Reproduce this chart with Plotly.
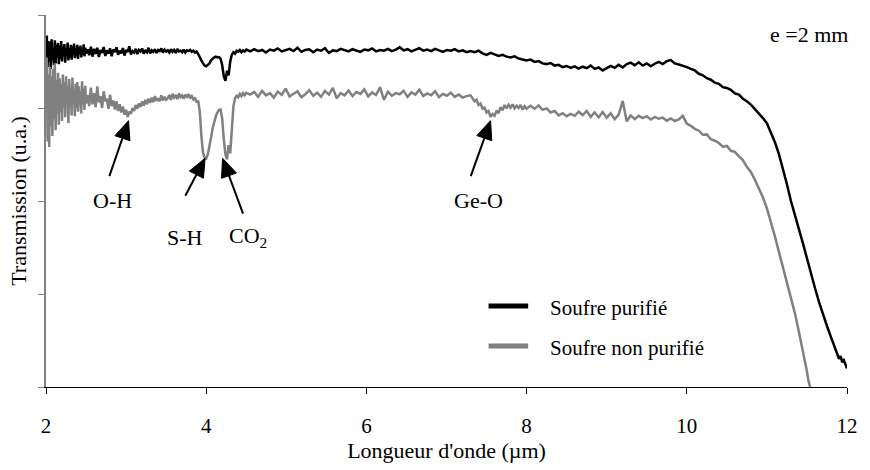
import numpy as np
import plotly.graph_objects as go

# ---------------- data ----------------
# Soufre purifié (black)
pur_2_25 = [91.5, 94.5, 86.0, 93.0, 87.5, 92.8, 85.5, 93.5, 88.0, 91.0,
            86.5, 93.2, 87.0, 92.0, 88.5, 92.5, 86.8, 91.8, 88.2, 93.0,
            87.5, 91.5, 88.8, 92.2, 87.2, 91.0, 89.0, 92.6, 87.8, 91.2,
            88.5, 92.0, 88.0, 91.6, 89.2, 92.3, 88.4, 91.0, 89.0, 92.0,
            88.2, 91.4, 89.5, 91.8, 88.6, 90.8, 89.3, 92.1, 88.9, 91.2, 89.6]
pur_25_35 = [90.8, 89.2, 91.5, 88.8, 90.9, 89.5, 91.2, 88.7, 90.6, 89.8,
             91.4, 89.0, 90.5, 89.6, 91.0, 88.9, 90.7, 90.0, 91.3, 89.3,
             90.4, 89.7, 91.1, 89.1, 90.6, 90.1, 91.6, 89.4, 90.3, 89.9,
             90.9, 89.5, 90.6, 90.2, 91.0, 89.6, 90.4, 90.0, 91.2, 89.7,
             90.5, 90.1, 90.8, 89.8, 90.6, 90.3, 91.0, 89.9, 90.7, 90.2]
pur_35_39 = [90.5, 89.9, 90.8, 90.1, 90.6, 89.8, 90.9, 90.2, 90.4, 90.0,
             90.7, 89.9, 90.5, 90.3, 90.6, 90.1, 90.4, 89.9, 90.2]
pur_39_45 = [89.5, 88.8, 87.8, 87.0, 86.4, 86.2, 86.5, 87.0, 87.8, 88.3,
             88.6, 88.8, 88.6, 88.7, 88.2, 86.5, 83.5, 82.3, 85.0, 83.8,
             87.5, 89.3, 90.0, 89.6, 90.4, 90.1, 90.6, 90.0, 90.5, 90.2, 90.7]
pur_45_73 = [90.2, 90.8, 90.3, 90.6, 89.9, 90.7, 90.4, 91.0, 90.2, 90.5,
             90.9, 90.3, 91.2, 90.1, 90.6, 90.8, 90.0, 90.7, 90.4, 91.1,
             89.8, 90.5, 90.3, 90.9, 90.6, 90.2, 90.8, 90.4, 90.1, 90.7,
             90.5, 91.0, 90.2, 90.6, 90.4, 90.9, 90.3, 90.7, 91.3, 90.5,
             90.8, 90.2, 90.6, 91.1, 90.4, 90.7, 90.3, 90.9, 90.5, 90.1,
             90.6, 90.4, 90.8, 90.2, 90.5, 90.0]
pur_73_10 = [90.3, 90.0, 90.4, 89.7, 89.3, 89.8, 89.4, 89.0, 89.3, 88.8,
             88.6, 88.9, 88.3, 88.1, 87.8, 88.0, 87.4, 87.6, 87.0, 86.8,
             87.1, 86.4, 86.6, 86.0, 86.3, 85.8, 86.2, 85.6, 86.1, 85.7,
             86.4, 85.5, 85.9, 85.1, 85.6, 86.3, 85.8, 86.6, 85.9, 86.8,
             87.2, 86.5, 87.3, 86.4, 87.0, 86.2, 86.9, 87.4, 86.8, 87.6,
             87.9, 87.0, 86.7, 86.4, 86.0]
pur_tail_x = [10.05, 10.10, 10.15, 10.20, 10.25, 10.30, 10.35, 10.40, 10.45, 10.50,
              10.55, 10.60, 10.65, 10.70, 10.75, 10.80, 10.85, 10.90, 10.95, 11.00,
              11.05, 11.10, 11.15, 11.20, 11.25, 11.30, 11.35, 11.40, 11.45, 11.50,
              11.55, 11.60, 11.65, 11.70, 11.75, 11.80, 11.85, 11.88, 11.90, 11.92,
              11.94, 11.96, 11.98, 12.00]
pur_tail_y = [85.5, 85.1, 84.2, 83.8, 83.0, 82.6, 81.8, 81.5, 80.6, 80.4,
              79.9, 78.9, 78.6, 77.5, 76.8, 75.9, 74.7, 73.6, 72.3, 70.9,
              68.5, 65.8, 62.6, 58.8, 54.5, 50.0, 46.3, 42.8, 38.6, 34.6,
              30.4, 26.6, 22.9, 19.4, 16.4, 13.4, 10.6, 9.0, 7.6, 8.3,
              6.7, 7.2, 5.8, 5.0]

# Soufre non purifié (grey)
np_2_25 = [80.0, 88.5, 66.0, 84.0, 64.5, 86.0, 70.0, 83.5, 67.5, 85.5,
           72.0, 87.0, 69.0, 82.5, 73.5, 84.5, 70.5, 83.0, 74.0, 81.5,
           71.5, 84.0, 75.0, 82.0, 72.5, 83.5, 76.0, 81.0, 71.0, 82.8,
           75.5, 80.5, 73.0, 83.2, 76.5, 80.0, 72.8, 81.5, 75.0, 82.0,
           74.0, 80.8, 76.0, 79.5, 73.5, 82.2, 75.8, 80.2, 74.5, 81.0, 76.2]
np_25_35 = [78.5, 75.5, 80.5, 76.0, 79.0, 75.2, 80.8, 76.5, 78.2, 75.0,
            79.5, 76.8, 77.5, 74.8, 78.6, 75.5, 77.0, 74.6, 76.8, 74.2,
            76.0, 73.8, 75.4, 73.2, 74.5, 72.6, 74.0, 73.5, 75.0, 74.2,
            75.8, 74.8, 76.2, 75.3, 76.8, 75.6, 77.2, 76.0, 77.5, 76.4,
            77.8, 76.6, 78.2, 76.9, 77.6, 76.8, 78.4, 77.0, 78.0, 77.2]
np_35_39 = [77.6, 78.5, 77.2, 78.8, 77.8, 78.3, 77.4, 78.9, 77.9, 78.4,
            77.5, 78.6, 78.0, 78.7, 77.6, 78.2, 77.3, 77.8, 76.5]
np_39_45 = [77.0, 74.0, 67.5, 63.0, 61.6, 61.4, 62.5, 64.5, 67.0, 69.5,
            71.3, 72.8, 73.8, 74.5, 74.6, 72.0, 66.5, 62.5, 61.2, 65.0,
            62.8, 71.0, 75.5, 77.6, 78.3, 77.9, 78.8, 78.2, 79.0, 78.4, 79.1]
np_45_73 = [78.6, 79.3, 78.0, 79.6, 78.4, 79.0, 77.8, 79.4, 78.5, 80.2,
            78.1, 78.8, 79.5, 77.9, 78.7, 79.8, 78.3, 79.1, 78.0, 79.6,
            78.6, 80.4, 77.6, 79.0, 78.4, 79.7, 78.2, 79.3, 78.8, 80.0,
            78.1, 79.2, 78.5, 80.6, 77.2, 79.4, 78.3, 79.0, 78.7, 79.6,
            78.0, 79.2, 78.6, 79.9, 78.2, 78.9, 78.4, 79.5, 77.9, 78.8,
            78.3, 79.1, 78.0, 78.6, 77.8, 78.2]
np_73_80 = [78.4, 77.6, 76.8, 77.2, 75.8, 76.2, 74.8, 75.1, 73.8, 74.2,
            72.6, 73.4, 72.9, 74.3, 73.6, 75.2, 74.4, 75.8, 74.9, 75.9,
            75.1, 76.0, 74.9, 75.6, 75.0, 75.8, 74.6, 75.5, 74.8]
np_80_10 = [75.6, 74.8, 75.7, 74.5, 74.9, 73.8, 74.2, 73.0, 73.6, 72.8,
            73.4, 72.9, 74.0, 73.1, 74.2, 72.6, 73.8, 72.5, 73.9, 72.4,
            73.6, 72.0, 73.2, 76.9, 71.4, 73.0, 72.0, 72.9, 72.3, 72.8,
            71.9, 72.6, 72.1, 72.4, 71.6, 72.2, 71.5, 71.9, 72.9, 70.8]
np_tail_x = [10.05, 10.10, 10.15, 10.20, 10.25, 10.30, 10.35, 10.40, 10.45, 10.50,
             10.55, 10.60, 10.65, 10.70, 10.75, 10.80, 10.85, 10.90, 10.95, 11.00,
             11.05, 11.10, 11.15, 11.20, 11.25, 11.30, 11.35, 11.40, 11.45,
             11.48, 11.50, 11.52, 11.54]
np_tail_y = [70.2, 69.4, 68.9, 67.8, 67.9, 66.6, 66.2, 65.6, 64.6, 64.8,
             63.5, 63.2, 62.0, 61.0, 59.2, 57.8, 55.7, 53.5, 51.0, 48.0,
             44.4, 40.5, 36.3, 32.2, 28.2, 24.0, 19.8, 14.8, 9.8,
             6.8, 4.2, 1.5, 0.0]

series_names = ["Soufre purifié", "Soufre non purifié"]
x_ticks = [2, 4, 6, 8, 10, 12]
y_ticks = [0, 25, 50, 75, 100]


def build(segments, tail_x, tail_y):
    xs, ys = [], []
    for (a, b, vals) in segments:
        xs.extend(np.linspace(a, b, len(vals)).tolist())
        ys.extend(vals)
    xs.extend(tail_x)
    ys.extend(tail_y)
    return xs, ys


pur_x, pur_y = build([(2.00, 2.50, pur_2_25), (2.52, 3.50, pur_25_35),
                      (3.52, 3.88, pur_35_39), (3.90, 4.50, pur_39_45),
                      (4.55, 7.25, pur_45_73), (7.30, 10.00, pur_73_10)],
                     pur_tail_x, pur_tail_y)
np_x, np_y = build([(2.00, 2.50, np_2_25), (2.52, 3.50, np_25_35),
                    (3.52, 3.88, np_35_39), (3.90, 4.50, np_39_45),
                    (4.55, 7.25, np_45_73), (7.30, 8.00, np_73_80),
                    (8.05, 10.00, np_80_10)],
                   np_tail_x, np_tail_y)

BLACK = "#000000"
GREY = "#808080"
FONT = "Liberation Serif, Times New Roman, serif"

W, H = 870, 470
ML, MR, MT, MB = 46, 15, 15, 74
PW, PH = W - ML - MR, H - MT - MB
X0, X1, Y0, Y1 = 2, 12, 0, 100
SX, SY = PW / (X1 - X0), PH / (Y1 - Y0)   # px per data unit

fig = go.Figure()
fig.add_trace(go.Scatter(x=pur_x, y=pur_y, mode="lines", name=series_names[0],
                         line=dict(color=BLACK, width=2.5), showlegend=False))
fig.add_trace(go.Scatter(x=np_x, y=np_y, mode="lines", name=series_names[1],
                         line=dict(color=GREY, width=2.5), showlegend=False))

shapes = []
# arrows: (tip_x, tip_y, tail_x, tail_y) in data units
arrows = [(3.030, 71.6, 2.791, 56.7),
          (3.986, 61.5, 3.739, 51.4),
          (4.204, 61.5, 4.460, 46.6),
          (7.550, 71.6, 7.303, 56.7)]
HEAD_L, HEAD_W = 19.0, 16.0
for tx, ty, sx_, sy_ in arrows:
    # pixel-space vector tail -> tip
    dx = (tx - sx_) * SX
    dy = -(ty - sy_) * SY
    n = (dx * dx + dy * dy) ** 0.5
    ux, uy = dx / n, dy / n
    px_, py_ = -uy, ux
    bx = -ux * HEAD_L
    by = -uy * HEAD_L
    c1 = (tx + (bx + px_ * HEAD_W / 2) / SX, ty - (by + py_ * HEAD_W / 2) / SY)
    c2 = (tx + (bx - px_ * HEAD_W / 2) / SX, ty - (by - py_ * HEAD_W / 2) / SY)
    base = (tx + (bx + ux * 2) / SX, ty - (by + uy * 2) / SY)
    shapes.append(dict(type="line", xref="x", yref="y", x0=sx_, y0=sy_,
                       x1=base[0], y1=base[1], line=dict(color=BLACK, width=2)))
    shapes.append(dict(type="path", xref="x", yref="y",
                       path=f"M {tx},{ty} L {c1[0]},{c1[1]} L {c2[0]},{c2[1]} Z",
                       fillcolor=BLACK, line=dict(color=BLACK, width=1)))

# legend samples (paper coords)
leg_rows = [(313, BLACK), (354, GREY)]
for yy, col in leg_rows:
    yp = (H - MB - yy) / PH
    shapes.append(dict(type="line", xref="paper", yref="paper",
                       x0=(493 - ML) / PW, x1=(533 - ML) / PW, y0=yp, y1=yp,
                       line=dict(color=col, width=5)))

annotations = []
for (yy, col), name in zip(leg_rows, series_names):
    annotations.append(dict(x=(553 - ML) / PW, y=(H - MB - yy - 2) / PH,
                            xref="paper", yref="paper", text=name,
                            showarrow=False, xanchor="left", yanchor="middle",
                            font=dict(family=FONT, size=21, color=BLACK)))

labels = [("O-H", 2.824, 50.1), ("S-H", 3.739, 40.2),
          ("CO<sub>2</sub>", 4.522, 40.2), ("Ge-O", 7.398, 50.1)]
for t, lx, ly in labels:
    annotations.append(dict(x=lx, y=ly, xref="x", yref="y", text=t,
                            showarrow=False, xanchor="center", yanchor="middle",
                            font=dict(family=FONT, size=22, color=BLACK)))

annotations.append(dict(x=(858 - ML) / PW, y=(H - MB - 35) / PH, xref="paper",
                        yref="paper", text="e =2 mm", showarrow=False,
                        xanchor="right", yanchor="middle",
                        font=dict(family=FONT, size=22, color=BLACK)))

fig.update_layout(
    width=W, height=H,
    margin=dict(l=ML, r=MR, t=MT, b=MB),
    plot_bgcolor="white", paper_bgcolor="white",
    font=dict(family=FONT, color=BLACK, size=21),
    showlegend=False,
    shapes=shapes, annotations=annotations,
    xaxis=dict(range=[X0, X1], tickvals=x_ticks, ticks="outside", ticklen=6,
               tickcolor=BLACK, showline=True, linecolor=BLACK, linewidth=1,
               showgrid=False, zeroline=False, ticklabelstandoff=14,
               tickfont=dict(family=FONT, size=21, color=BLACK),
               title=dict(text="Longueur d'onde (µm)", standoff=4,
                          font=dict(family=FONT, size=22, color=BLACK))),
    yaxis=dict(range=[Y0, Y1], tickvals=y_ticks, ticks="outside", ticklen=6,
               tickcolor=GREY, showticklabels=False, showline=True,
               linecolor=GREY, linewidth=1.5, showgrid=False, zeroline=False,
               title=dict(text="Transmission (u.a.)", standoff=6,
                          font=dict(family=FONT, size=22, color=BLACK))),
)

fig.write_html("out.html")
